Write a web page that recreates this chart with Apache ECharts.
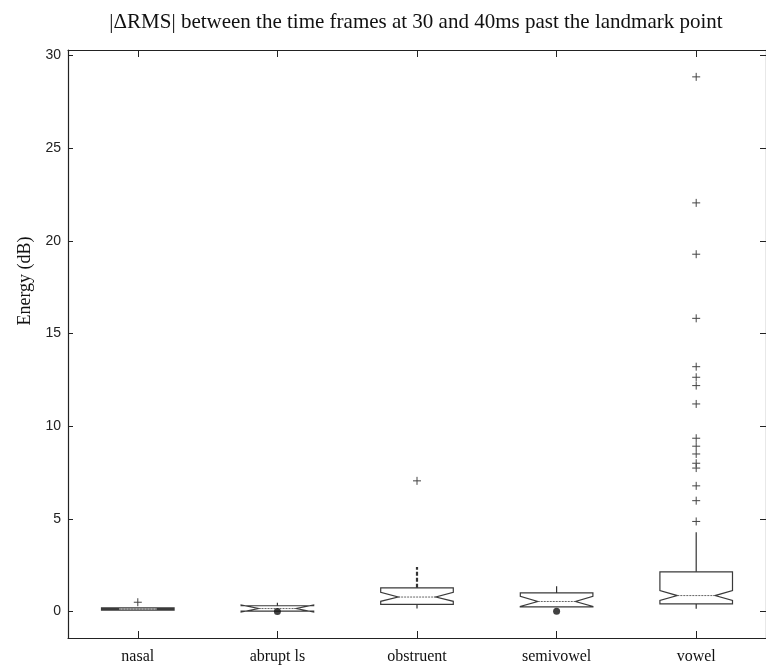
<!DOCTYPE html>
<html>
<head>
<meta charset="utf-8">
<script src="https://cdn.jsdelivr.net/npm/echarts@6/dist/echarts.min.js"></script>
<style>
  html, body { margin: 0; padding: 0; background: #fff; }
  #chart { width: 766px; height: 665px; }
</style>
</head>
<body>
<div id="chart"></div>
<script>
const categories = ['nasal', 'abrupt ls', 'obstruent', 'semivowel', 'vowel']
const q1 = [0.07, 0.02, 0.38, 0.25, 0.41]
const median = [0.13, 0.16, 0.78, 0.54, 0.86]
const q3 = [0.2, 0.31, 1.28, 1.0, 2.14]
const notchLow = [0.1, -0.03, 0.55, 0.27, 0.6]
const notchHigh = [0.16, 0.35, 1.04, 0.82, 1.13]
const whiskerLow = [0.07, 0.02, 0.16, 0.25, 0.15]
const whiskerHigh = [0.2, 0.47, 2.4, 1.36, 4.27]

const outliersNasal = [0.5]
const outliersObstruent = [7.05]
const outliersVowel = [28.85, 22.05, 19.28, 15.82, 13.21, 12.64, 12.19, 11.2, 9.35, 8.92, 8.5, 8.0, 7.74, 6.78, 5.98, 4.86]
const dotsAbrupt = [0.0]
const dotsSemivowel = [0.02]

const yTicks = [0, 5, 10, 15, 20, 25, 30]

const boxData = categories.map((c, i) => [i, q1[i], median[i], q3[i], notchLow[i], notchHigh[i], whiskerLow[i], whiskerHigh[i]])
const outlierData = [
  ...outliersNasal.map(v => [0, v]),
  ...outliersObstruent.map(v => [2, v]),
  ...outliersVowel.map(v => [4, v])
]
const dotData = [
  ...dotsAbrupt.map(v => [1, v]),
  ...dotsSemivowel.map(v => [3, v])
]

const chart = echarts.init(document.getElementById('chart'))

function renderBox(params, api) {
  const i = api.value(0)
  const band = api.size([1, 0])[0]
  const hw = band * 0.26
  const d = hw * 0.48
  const c = api.coord([i, 0])[0]
  const y = k => api.coord([i, api.value(k)])[1]
  const L = c - hw, R = c + hw
  const yq1 = y(1), ymed = y(2), yq3 = y(3), ynl = y(4), ynh = y(5), ywl = y(6), ywh = y(7)
  const dashed = categories[i] === 'obstruent'
  return {
    type: 'group',
    children: [
      {
        type: 'polygon',
        shape: { points: [[L, yq3], [R, yq3], [R, ynh], [R - d, ymed], [R, ynl], [R, yq1], [L, yq1], [L, ynl], [L + d, ymed], [L, ynh]] },
        style: { fill: 'none', stroke: '#3a3a3a', lineWidth: 1.2 }
      },
      {
        type: 'line',
        shape: { x1: L + d, y1: ymed, x2: R - d, y2: ymed },
        style: { stroke: '#666', lineWidth: 1, lineDash: [2, 1] }
      },
      {
        type: 'line',
        shape: { x1: c, y1: yq3, x2: c, y2: ywh },
        style: { stroke: '#333', lineWidth: dashed ? 2.2 : 1.2, lineDash: dashed ? [4, 2] : null }
      },
      {
        type: 'line',
        shape: { x1: c, y1: yq1, x2: c, y2: ywl },
        style: { stroke: '#333', lineWidth: 1.2 }
      }
    ]
  }
}

function renderPlus(params, api) {
  const p = api.coord([api.value(0), api.value(1)])
  const a = 4
  return {
    type: 'group',
    children: [
      { type: 'line', shape: { x1: p[0] - a, y1: p[1], x2: p[0] + a, y2: p[1] }, style: { stroke: '#444', lineWidth: 1 } },
      { type: 'line', shape: { x1: p[0], y1: p[1] - a, x2: p[0], y2: p[1] + a }, style: { stroke: '#444', lineWidth: 1 } }
    ]
  }
}

const axisColor = '#222'

const option = {
  animation: false,
  title: {
    text: '|\u0394RMS| between the time frames at 30 and 40ms past the landmark point',
    left: 411,
    top: 7,
    textAlign: 'center',
    textStyle: {
      fontFamily: 'Liberation Serif',
      fontSize: 21,
      fontWeight: 'normal',
      color: '#111'
    }
  },
  graphic: [
    {
      type: 'text',
      x: 25,
      y: 281,
      rotation: Math.PI / 2,
      style: {
        text: 'Energy (dB)',
        fontFamily: 'Liberation Serif',
        fontSize: 18,
        fill: '#111',
        align: 'center',
        verticalAlign: 'middle'
      }
    }
  ],
  grid: {
    left: 68,
    top: 50,
    width: 702,
    height: 589
  },
  xAxis: [
    {
      type: 'category',
      data: categories,
      position: 'bottom',
      axisLine: { show: true, onZero: false, lineStyle: { color: axisColor, width: 1.2 } },
      axisTick: { show: true, inside: true, alignWithLabel: true, length: 7, lineStyle: { color: axisColor } },
      axisLabel: { fontFamily: 'Liberation Serif', fontSize: 16, color: '#111', margin: 11 },
      splitLine: { show: false }
    },
    {
      type: 'category',
      data: categories,
      position: 'top',
      axisLine: { show: true, onZero: false, lineStyle: { color: axisColor, width: 1.2 } },
      axisTick: { show: true, inside: true, alignWithLabel: true, length: 7, lineStyle: { color: axisColor } },
      axisLabel: { show: false },
      splitLine: { show: false }
    }
  ],
  yAxis: [
    {
      type: 'value',
      min: -1.43,
      max: 30.3,
      position: 'left',
      axisLine: { show: true, onZero: false, lineStyle: { color: axisColor, width: 1.2 } },
      axisTick: { show: true, inside: true, length: 5, customValues: yTicks, lineStyle: { color: axisColor } },
      axisLabel: { customValues: yTicks, fontFamily: 'Liberation Sans', fontSize: 14, color: '#222', margin: 7 },
      splitLine: { show: false }
    },
    {
      type: 'value',
      min: -1.43,
      max: 30.3,
      position: 'right',
      axisLine: { show: true, onZero: false, lineStyle: { color: axisColor, width: 1.2 } },
      axisTick: { show: true, inside: true, length: 6, customValues: yTicks, lineStyle: { color: axisColor } },
      axisLabel: { show: false },
      splitLine: { show: false }
    }
  ],
  series: [
    {
      type: 'custom',
      name: 'box',
      xAxisIndex: 0,
      yAxisIndex: 0,
      renderItem: renderBox,
      data: boxData,
      z: 3
    },
    {
      type: 'custom',
      name: 'outliers',
      xAxisIndex: 0,
      yAxisIndex: 0,
      renderItem: renderPlus,
      data: outlierData,
      z: 4
    },
    {
      type: 'scatter',
      name: 'dots',
      xAxisIndex: 0,
      yAxisIndex: 0,
      symbol: 'circle',
      symbolSize: 7,
      itemStyle: { color: '#111' },
      data: dotData,
      z: 5
    }
  ]
}

chart.setOption(option)
</script>
</body>
</html>
